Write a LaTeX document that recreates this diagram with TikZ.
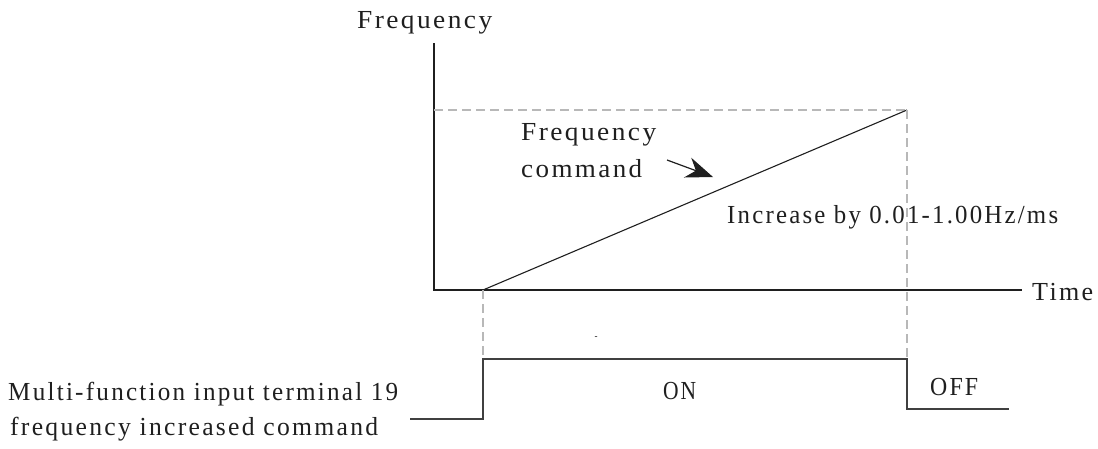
\documentclass[tikz,border=0pt]{standalone}
\usepackage{fontspec}
\setmainfont{Liberation Serif}
\newfontfamily\diagfont{Liberation Serif}[FakeStretch=0.9, LetterSpace=8]
\usepackage{graphicx}
\usepackage{xcolor}
\definecolor{AxisBlack}{rgb}{0.12, 0.12, 0.12}
\definecolor{GuideGrey}{rgb}{0.72, 0.72, 0.72}
\definecolor{SignalGrey}{rgb}{0.25, 0.25, 0.25}
\usetikzlibrary{arrows.meta}
% stretch a label sideways to a given width, keep its height
\newcommand{\fitlabel}[2]{\resizebox{#1}{\height}{#2}}

\begin{document}
\begin{tikzpicture}[x=1pt, y=-1pt,
    font=\diagfont\fontsize{26}{31}\selectfont,
    txt/.style={anchor=base west, inner sep=0pt, text=AxisBlack},
    axis/.style={AxisBlack, line width=2.6pt},
    guide/.style={GuideGrey, line width=1.2pt, dash pattern=on 9pt off 5pt},
    signal/.style={SignalGrey, line width=1.4pt}]

    \useasboundingbox (0,0) rectangle (1098,448);

    % 1. AXES OF THE FREQUENCY PLOT
    \coordinate (origin) at (434,290);
    \coordinate (ytop) at (434,43);
    \coordinate (xend) at (1022,290);
    \draw[axis] (ytop) -- (origin) -- (xend);
    \node[txt] (ylabel) at (357,28) {\fitlabel{135pt}{Frequency}};
    \node[txt] (xlabel) at (1032,300) {\fitlabel{61pt}{Time}};

    % 2. THE RAMP AND ITS GUIDE LINES
    \coordinate (rampstart) at (483,290);
    \coordinate (rampend) at (907,110);
    \coordinate (fmax) at (434,110);
    \draw[guide] (fmax) -- (rampend);
    \draw[AxisBlack, line width=1.1pt] (rampstart) -- (rampend);
    \node[txt] (rate) at (727,223) {\fitlabel{331pt}{Increase by 0.01-1.00Hz/ms}};

    % 3. FREQUENCY COMMAND LABEL WITH ITS POINTER
    \node[txt] (cmdA) at (521,140) {\fitlabel{135pt}{Frequency}};
    \node[txt] (cmdB) at (521,177) {\fitlabel{121pt}{command}};
    \coordinate (arrowtail) at (667,160);
    \coordinate (arrowtip) at (713,177);
    \draw[AxisBlack, line width=1.2pt, -{Stealth[length=27pt, width=21pt]}] (arrowtail) -- (arrowtip);

    % 4. TERMINAL SIGNAL (ON / OFF)
    \coordinate (sigstart) at (410,419);
    \coordinate (riselow) at (483,419);
    \coordinate (risehigh) at (483,359);
    \coordinate (fallhigh) at (907,359);
    \coordinate (falllow) at (907,409);
    \coordinate (sigend) at (1009,409);
    \draw[guide] (rampstart) -- (risehigh);
    \draw[guide] (rampend) -- (fallhigh);
    \draw[signal] (sigstart) -- (riselow) -- (risehigh) -- (fallhigh) -- (falllow) -- (sigend);
    \node[txt] (on) at (663,399) {\fitlabel{33pt}{ON}};
    \node[txt] (off) at (930,395) {\fitlabel{48pt}{OFF}};
    \node[inner sep=0pt, font=\diagfont\fontsize{10}{12}\selectfont, text=AxisBlack] (tick) at (596,338) {-};
    \node[txt] (termA) at (8,400) {\fitlabel{390pt}{Multi-function input terminal 19}};
    \node[txt] (termB) at (10,435) {\fitlabel{368pt}{frequency increased command}};

\end{tikzpicture}
\end{document}
